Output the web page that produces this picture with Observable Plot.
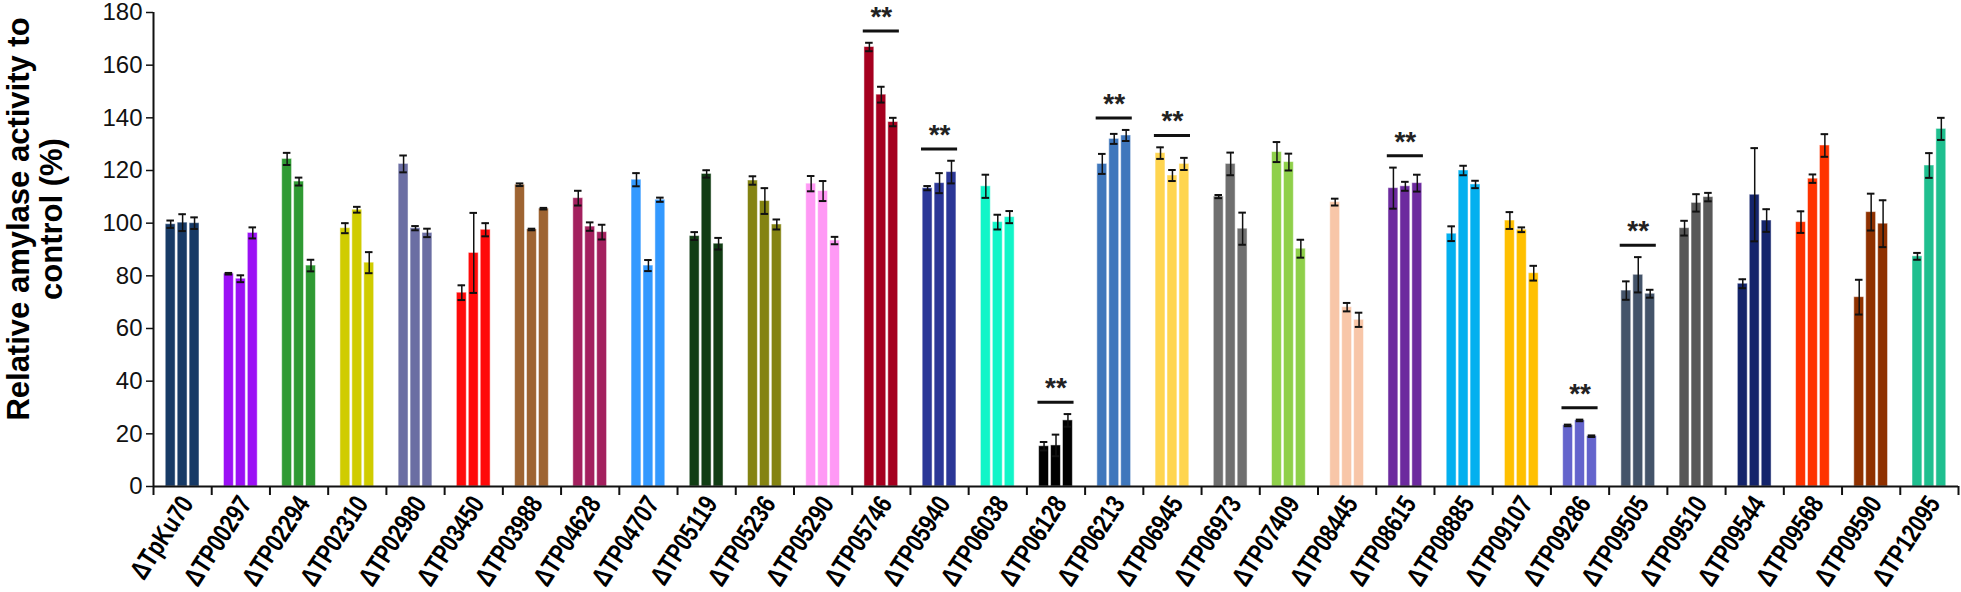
<!DOCTYPE html>
<html>
<head>
<meta charset="utf-8">
<script src="https://cdn.jsdelivr.net/npm/d3@7"></script>
<script src="https://cdn.jsdelivr.net/npm/@observablehq/plot@0.6"></script>
<style>
  html, body { margin: 0; padding: 0; background: #fff; }
  #chart { width: 1961px; height: 592px; }
  svg { font-family: "Liberation Sans", Arial, sans-serif; }
</style>
</head>
<body>
<div id="chart"></div>
<script>
// ---- Data ----
const genes = ["TpKu70","TP00297","TP02294","TP02310","TP02980","TP03450","TP03988","TP04628","TP04707","TP05119","TP05236","TP05290","TP05746","TP05940","TP06038","TP06128","TP06213","TP06945","TP06973","TP07409","TP08445","TP08615","TP08885","TP09107","TP09286","TP09505","TP09510","TP09544","TP09568","TP09590","TP12095"];

const rep1 = [99.6, 80.8, 124.4, 98.1, 122.5, 73.6, 114.6, 109.5, 116.5, 95.1, 116.2, 115.0, 166.9, 113.3, 114.0, 15.3, 122.5, 126.6, 110.1, 127.0, 108.0, 113.3, 96.0, 101.0, 23.2, 74.4, 98.1, 77.0, 100.4, 71.9, 87.4];
const rep2 = [100.2, 78.9, 115.8, 105.1, 98.1, 88.7, 97.6, 98.7, 83.9, 118.7, 108.4, 112.2, 148.8, 115.2, 100.4, 15.6, 132.0, 118.1, 122.5, 123.2, 68.1, 114.0, 120.0, 97.5, 25.1, 80.4, 107.7, 110.8, 116.9, 104.2, 121.9];
const rep3 = [100.0, 96.3, 83.9, 85.0, 96.3, 97.5, 105.5, 96.6, 108.9, 92.2, 99.5, 93.4, 138.4, 119.4, 102.3, 25.1, 133.3, 122.5, 97.9, 90.3, 63.3, 115.2, 114.7, 81.0, 19.1, 73.2, 109.9, 101.0, 129.5, 99.8, 135.8];

const err1 = [1.4, 0.3, 2.3, 1.9, 3.2, 2.8, 0.5, 2.8, 2.5, 1.5, 1.6, 2.9, 1.6, 0.8, 4.4, 1.6, 3.8, 2.2, 0.6, 3.8, 1.3, 7.8, 2.8, 3.2, 0.3, 3.5, 2.8, 1.7, 4.1, 6.6, 1.3];
const err2 = [3.2, 1.3, 1.5, 1.1, 0.8, 15.2, 0.3, 1.6, 2.1, 1.4, 4.9, 3.8, 3.0, 3.8, 2.8, 4.1, 1.9, 2.1, 4.3, 3.2, 1.6, 1.7, 1.8, 0.9, 0.3, 6.7, 3.3, 17.7, 1.6, 7.0, 4.7];
const err3 = [2.2, 2.1, 2.2, 4.0, 1.6, 2.5, 0.3, 2.8, 0.8, 2.2, 1.9, 1.4, 1.6, 4.3, 2.3, 2.4, 2.1, 2.3, 6.1, 3.4, 2.7, 3.2, 1.4, 2.8, 0.3, 1.5, 1.6, 4.3, 4.3, 8.9, 4.2];

const colors = ["#173a66","#9b10f5","#2f9a33","#d0cc00","#6b6ea3","#ff0a0a","#9e6432","#a3205e","#3399ff","#113d14","#848312","#ff99f5","#a5001f","#2b3797","#11f5c8","#000000","#3f77bc","#ffd54f","#6f6f6f","#8fd04a","#f8c6a8","#6c2a9e","#03b0ef","#ffc000","#6464cc","#44546a","#585858","#14246b","#ff3300","#8f3100","#1fbf8f"];

const significant = ["TP05746","TP05940","TP06128","TP06213","TP06945","TP08615","TP09286","TP09505"];

const yTicks = [0, 20, 40, 60, 80, 100, 120, 140, 160, 180];
const yLabelLines = ["Relative amylase activity to", "control (%)"];

// ---- Build table ----
const reps = [rep1, rep2, rep3];
const errs = [err1, err2, err3];
const step = 0.205, bw = 0.17, cap = 0.065;
const rows = [];
genes.forEach((g, i) => {
  reps.forEach((r, k) => {
    const c = i + 0.5 + (k - 1) * step;
    rows.push({gene: g, i, k, value: r[i], err: errs[k][i], color: colors[i], c});
  });
});
const sigRows = significant.map(g => {
  const i = genes.indexOf(g);
  const top = d3.max(reps.map((r, k) => r[i] + errs[k][i]));
  return {gene: g, i, level: top + 4.5};
});

const plot = Plot.plot({
  width: 1961,
  height: 592,
  marginLeft: 153,
  marginRight: 3,
  marginTop: 12,
  marginBottom: 106,
  style: {fontFamily: "'Liberation Sans', Arial, sans-serif", background: "#fff", overflow: "visible"},
  x: {domain: [0, genes.length], axis: null},
  y: {domain: [0, 180], axis: null},
  marks: [
    Plot.rectY(rows, {x1: d => d.c - bw / 2, x2: d => d.c + bw / 2, y1: 0, y2: "value", fill: "color", stroke: "white", strokeOpacity: 0.5, strokeWidth: 1}),
    Plot.ruleX(rows, {x: "c", y1: d => d.value - d.err, y2: d => d.value + d.err, stroke: "#111", strokeWidth: 1.5}),
    Plot.ruleY(rows, {y: d => d.value + d.err, x1: d => d.c - cap, x2: d => d.c + cap, stroke: "#111", strokeWidth: 2}),
    Plot.ruleY(rows, {y: d => d.value - d.err, x1: d => d.c - cap, x2: d => d.c + cap, stroke: "#111", strokeWidth: 2}),
    Plot.axisY(yTicks, {tickSize: 7, tickPadding: 4, fontSize: 24, stroke: "#111", strokeWidth: 1.5, fill: "#111", label: null}),
    Plot.ruleX([0], {y1: 0, y2: 180, stroke: "#111", strokeWidth: 2}),
    Plot.axisX(d3.range(genes.length + 1), {tickSize: 9, tickFormat: () => "", stroke: "#111", strokeWidth: 2, label: null}),
    Plot.ruleY([0], {stroke: "#111", strokeWidth: 2}),
    Plot.ruleY(sigRows, {y: "level", x1: d => d.i + 0.5 - 0.31, x2: d => d.i + 0.5 + 0.31, stroke: "#111", strokeWidth: 3}),
    Plot.text(sigRows, {x: d => d.i + 0.5, y: "level", text: () => "**", dy: -5, lineAnchor: "bottom", fontSize: 28, fontWeight: "bold", fill: "#222"})
  ]
});
document.getElementById("chart").appendChild(plot);

// rotated (condensed) category labels and the y-axis title, placed through Plot's scales
const xs = plot.scale("x"), ys = plot.scale("y");
const svg = d3.select(plot);
const y0 = ys.apply(0);
svg.append("g")
  .attr("font-size", 27).attr("font-weight", "bold").attr("fill", "#000")
  .selectAll("text").data(genes).join("text")
  .attr("text-anchor", "end")
  .attr("dy", "0.32em")
  .attr("transform", (d, i) => `translate(${xs.apply(i + 0.5) + 5},${y0 + 13}) rotate(-57) scale(0.78,1)`)
  .text(d => "Δ" + d);

const yMid = (ys.apply(0) + ys.apply(180)) / 2 - 30;
svg.append("g")
  .attr("font-size", 31).attr("font-weight", "bold").attr("fill", "#000")
  .attr("text-anchor", "middle")
  .selectAll("text").data(yLabelLines).join("text")
  .attr("dy", "0.35em")
  .attr("transform", (d, i) => `translate(${18 + i * 33},${yMid}) rotate(-90)`)
  .text(d => d);
</script>
</body>
</html>
